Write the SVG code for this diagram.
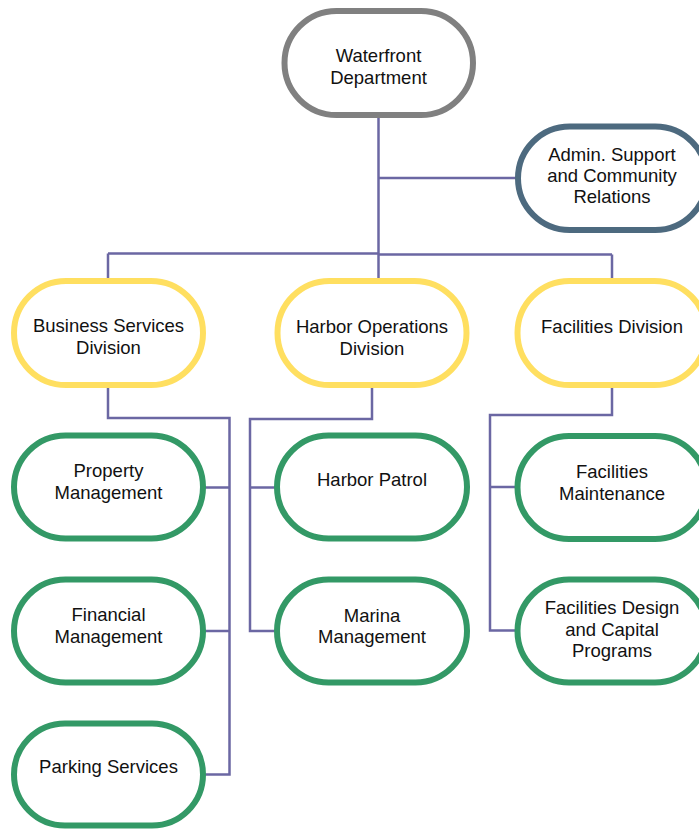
<svg xmlns="http://www.w3.org/2000/svg" width="699" height="829" viewBox="0 0 699 829">
<style>
.n{fill:#fff;stroke-width:6}
.g{stroke:#808080}
.b{stroke:#4d6a7f}
.y{stroke:#ffdf60}
.gr{stroke:#339966}
.c{fill:none;stroke:#6b67a3;stroke-width:2.5}
text{font-family:"Liberation Sans",Arial,sans-serif;font-size:18.5px;fill:#111;text-anchor:middle}
</style>
<rect width="699" height="829" fill="#fff"/>
<g id="connectors" class="c">
<path d="M378.5 116V281"/>
<path d="M378.5 178H518"/>
<path d="M108 253.5H378.5M378.5 254.5H612"/>
<path d="M108 253.5V281M612 254.5V281"/>
<path d="M108 385V418H229.5V774.5H205"/>
<path d="M205 487.5H229.5M205 631H229.5"/>
<path d="M372 388V419H250V631H277"/>
<path d="M250 487.5H277"/>
<path d="M612 388V415H490V630.5H517"/>
<path d="M490 487H517"/>
</g>
<g id="waterfront"><rect class="n g" x="284.5" y="11" width="188.5" height="104" rx="52"/>
<text x="378.5" y="62.3">Waterfront</text><text x="378.5" y="84.3">Department</text></g>
<g id="admin"><rect class="n b" x="518" y="126.5" width="189" height="103.5" rx="51.75"/>
<text x="612" y="161">Admin. Support</text><text x="612" y="182.2">and Community</text><text x="612" y="203.4">Relations</text></g>
<g id="business"><rect class="n y" x="14" y="281" width="189" height="104" rx="52"/>
<text x="108.5" y="331.5">Business Services</text><text x="108.5" y="353.9">Division</text></g>
<g id="harborops"><rect class="n y" x="277.5" y="281" width="189" height="104" rx="52"/>
<text x="372" y="332.5">Harbor Operations</text><text x="372" y="354.9">Division</text></g>
<g id="facilities"><rect class="n y" x="517.5" y="281" width="189" height="104" rx="52"/>
<text x="612" y="332.5">Facilities Division</text></g>
<g id="property"><rect class="n gr" x="14" y="435.5" width="189" height="103" rx="51.5"/>
<text x="108.5" y="477.2">Property</text><text x="108.5" y="499.2">Management</text></g>
<g id="harborpatrol"><rect class="n gr" x="277" y="435.5" width="190" height="103" rx="51.5"/>
<text x="372" y="485.5">Harbor Patrol</text></g>
<g id="facmaint"><rect class="n gr" x="517.5" y="436" width="189" height="103" rx="51.5"/>
<text x="612" y="478.2">Facilities</text><text x="612" y="499.9">Maintenance</text></g>
<g id="financial"><rect class="n gr" x="14" y="579.5" width="189" height="103" rx="51.5"/>
<text x="108.5" y="620.9">Financial</text><text x="108.5" y="643.2">Management</text></g>
<g id="marina"><rect class="n gr" x="277" y="579.5" width="190" height="103" rx="51.5"/>
<text x="372" y="621.5">Marina</text><text x="372" y="643.2">Management</text></g>
<g id="facdesign"><rect class="n gr" x="517.5" y="579.5" width="189" height="103" rx="51.5"/>
<text x="612" y="614.2">Facilities Design</text><text x="612" y="635.9">and Capital</text><text x="612" y="656.5">Programs</text></g>
<g id="parking"><rect class="n gr" x="14" y="723.5" width="189" height="102" rx="51"/>
<text x="108.5" y="773.2">Parking Services</text></g>
</svg>
